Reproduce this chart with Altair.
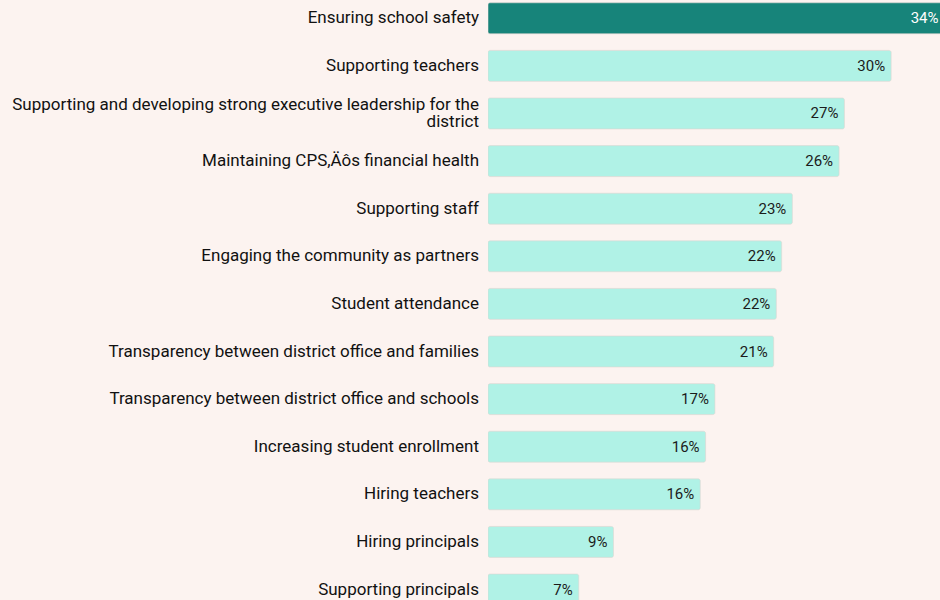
import altair as alt
import pandas as pd

# Survey priorities, share of respondents (%)
categories = [
    "Ensuring school safety",
    "Supporting teachers",
    "Supporting and developing strong executive leadership for the\ndistrict",
    "Maintaining CPS,Äôs financial health",
    "Supporting staff",
    "Engaging the community as partners",
    "Student attendance",
    "Transparency between district office and families",
    "Transparency between district office and schools",
    "Increasing student enrollment",
    "Hiring teachers",
    "Hiring principals",
    "Supporting principals",
]
values = [34.2, 30.2, 26.7, 26.3, 22.8, 22.0, 21.6, 21.4, 17.0, 16.3, 15.9, 9.4, 6.8]
highlight = [True] + [False] * 12

ROW_PX = 47.6      # pixel height of one row
LINE_PX = 17       # line height of wrapped category labels

df = pd.DataFrame({
    "category": categories,
    "value": values,
    "top": highlight,
    "idx": list(range(len(categories))),
})
df["y0"] = df["idx"] - 0.325
df["y1"] = df["idx"] + 0.325
df["label"] = df["value"].map(lambda v: f"{v:.0f}%")
# centre wrapped labels vertically on their bar
df["ty"] = df["idx"] - (df["category"].str.count("\n") * LINE_PX / 2) / ROW_PX

BG = "#fcf3f0"
x_scale = alt.Scale(domain=[0, 33.86], nice=False, zero=True)
y_scale = alt.Scale(domain=[-0.384, 12.22], reverse=True, nice=False, zero=False)

base = alt.Chart(df)

bars = base.mark_bar(cornerRadius=2, clip=True, stroke="#ddd5d0", strokeWidth=0.6).encode(
    x=alt.X("value:Q", scale=x_scale, axis=None),
    x2=alt.datum(0),
    y=alt.Y("y0:Q", scale=y_scale, axis=None),
    y2="y1:Q",
    color=alt.condition("datum.top", alt.value("#17847a"), alt.value("#b0f2e6")),
)

values_text = base.mark_text(
    align="right", baseline="middle", dx=-6, fontSize=15, font="Roboto", clip=True
).encode(
    x=alt.X("value:Q", scale=x_scale),
    y=alt.Y("idx:Q", scale=y_scale),
    text="label:N",
    color=alt.condition("datum.top", alt.value("#ffffff"), alt.value("#1b1b1b")),
)

cat_text = base.mark_text(
    align="right", baseline="middle", fontSize=17, font="Roboto",
    color="#111111", lineBreak="\n", lineHeight=LINE_PX,
).encode(
    x=alt.value(-9),
    y=alt.Y("ty:Q", scale=y_scale),
    text="category:N",
)

chart = (
    alt.layer(bars, values_text, cat_text)
    .properties(
        width=452,
        height=600,
        autosize=alt.AutoSizeParams(type="none"),
        padding={"left": 488, "top": 0, "right": 0, "bottom": 0},
        background=BG,
    )
    .configure_view(stroke=None, fill=BG)
)

chart.save("out.html", embed_options={"renderer": "svg", "actions": False})
